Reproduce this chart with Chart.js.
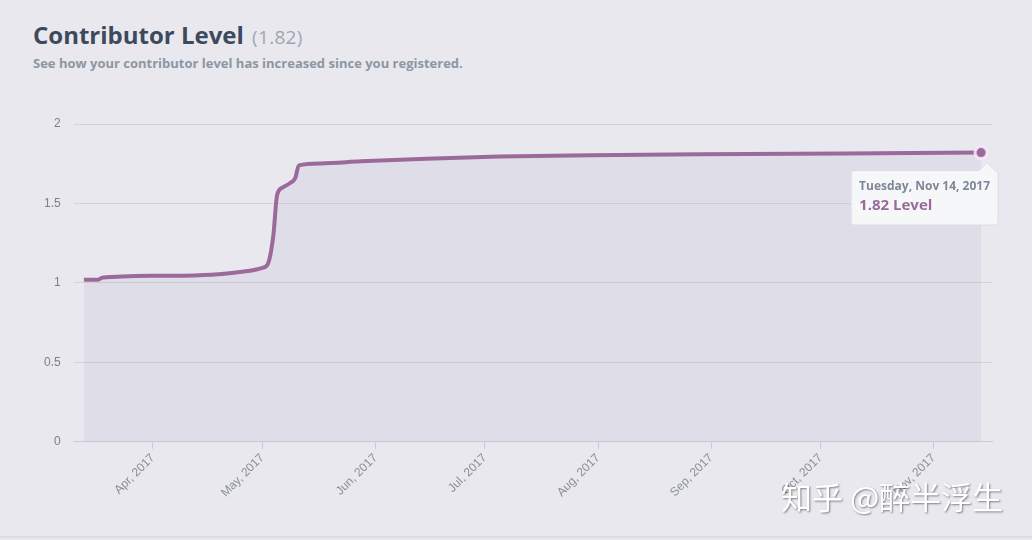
<!DOCTYPE html>
<html lang="en">
<head>
    <meta charset="UTF-8">
    <title>Contributor Level</title>
    <script src="https://cdn.jsdelivr.net/npm/chart.js"></script>
    <style>
        html, body { margin: 0; padding: 0; }
        body {
            width: 1032px; height: 540px; overflow: hidden; position: relative;
            background: #e8e8ee; font-family: "Open Sans", sans-serif;
        }
        h1 {
            position: absolute; left: 33px; top: 18px; margin: 0;
            font-size: 24px; font-weight: 700; color: #3d4a5c;
        }
        h1 span { font-size: 19px; font-weight: 400; color: #a0a6b0; letter-spacing: 0.3px; margin-left: 2px; }
        p.sub {
            position: absolute; left: 33px; top: 54px; margin: 0;
            font-size: 13px; font-weight: 700; color: #8d96a3;
        }
        #wrap { position: absolute; left: 0; top: 90px; width: 1032px; height: 440px; }
        .mark {
            position: absolute; left: 781px; top: 473px;
            font-family: "Noto Sans CJK SC", sans-serif; font-size: 31px; color: #fff;
            text-shadow: 1px 1px 2px rgba(0,0,0,0.45);
        }
        .edge { position: absolute; left: 0; top: 536px; width: 1032px; height: 2px; background: #dcdbe5; }
    </style>
</head>
<body>
    <h1>Contributor Level <span>(1.82)</span></h1>
    <p class="sub">See how your contributor level has increased since you registered.</p>
    <div id="wrap"><canvas id="myChart"></canvas></div>
    <div class="mark">知乎 @醉半浮生</div>
    <div class="edge"></div>

    <script>
        // day of year 2017 (Jan 1 = 0) and contributor level
        const days   = [71, 75, 76, 92, 106, 116, 120, 121.5, 123, 124, 125.5, 127.7, 129, 130, 136, 147, 165, 185, 210, 240, 280, 317];
        const levels = [1.02, 1.02, 1.032, 1.045, 1.052, 1.075, 1.095, 1.12, 1.3, 1.55, 1.6, 1.63, 1.66, 1.74, 1.752, 1.765, 1.782, 1.795, 1.803, 1.81, 1.815, 1.82];

        const monthDays   = [90, 120, 151, 181, 212, 243, 273, 304];
        const monthLabels = ['Apr, 2017', 'May, 2017', 'Jun, 2017', 'Jul, 2017', 'Aug, 2017', 'Sep, 2017', 'Oct, 2017', 'Nov, 2017'];
        const yTicks = [0, 0.5, 1, 1.5, 2];

        const purple = '#9b6a9b';

        function dayTitle(d) {
            const dt = new Date(2017, 0, 1 + d);
            return dt.toLocaleDateString('en-US', { weekday: 'long', month: 'short', day: 'numeric', year: 'numeric' });
        }

        // tooltip sits a little right of the point, like the original widget
        Chart.Tooltip.positioners.pinned = function (items) {
            if (!items.length) return false;
            return { x: items[0].element.x + 6, y: items[0].element.y };
        };

        const ctx = document.getElementById('myChart').getContext('2d');
        const myChart = new Chart(ctx, {
            type: 'line',
            data: {
                datasets: [{
                    label: 'Level',
                    data: days.map((d, i) => ({ x: d, y: levels[i] })),
                    borderColor: purple,
                    borderWidth: 4,
                    backgroundColor: 'rgba(130,110,160,0.08)',
                    fill: 'origin',
                    cubicInterpolationMode: 'monotone',
                    pointRadius: 0,
                    pointHoverRadius: 6,
                    pointHoverBackgroundColor: purple,
                    pointHoverBorderColor: 'rgba(250,235,250,0.85)',
                    pointHoverBorderWidth: 3
                }]
            },
            options: {
                responsive: true,
                maintainAspectRatio: false,
                animation: false,
                events: [],
                layout: { padding: { left: 31, right: 40, top: 34, bottom: 28 } },
                scales: {
                    x: {
                        type: 'linear',
                        min: 71,
                        max: 320,
                        afterBuildTicks: axis => { axis.ticks = monthDays.map(v => ({ value: v })); },
                        ticks: {
                            autoSkip: false,
                            maxRotation: 45,
                            minRotation: 45,
                            color: '#8a8f99',
                            font: { family: 'Liberation Sans', size: 12 },
                            padding: 2,
                            callback: v => monthLabels[monthDays.indexOf(v)]
                        },
                        grid: { drawOnChartArea: false, tickLength: 7, color: '#c8ccd6' },
                        border: { color: '#c5ccd8' }
                    },
                    y: {
                        min: 0,
                        max: 2,
                        afterBuildTicks: axis => { axis.ticks = yTicks.map(v => ({ value: v })); },
                        ticks: {
                            color: '#7d8088',
                            font: { family: 'Liberation Sans', size: 12 },
                            padding: 13,
                            callback: v => String(v)
                        },
                        grid: {
                            tickLength: 10,
                            color: ctx => ctx.tick && ctx.tick.value === 0 ? '#c5ccd8' : '#d3d3dc'
                        },
                        border: { display: false }
                    }
                },
                plugins: {
                    legend: { display: false },
                    tooltip: {
                        position: 'pinned',
                        xAlign: 'right',
                        yAlign: 'top',
                        backgroundColor: '#f6f7f9',
                        borderColor: '#dcdde4',
                        borderWidth: 1,
                        cornerRadius: 3,
                        caretSize: 8,
                        caretPadding: 10,
                        padding: { left: 8, right: 8, top: 9, bottom: 10 },
                        displayColors: false,
                        titleColor: '#7d8896',
                        titleFont: { family: 'Open Sans', size: 12, weight: 'bold' },
                        titleMarginBottom: 3,
                        bodyColor: purple,
                        bodyFont: { family: 'Open Sans', size: 15, weight: 'bold' },
                        callbacks: {
                            title: items => dayTitle(items[0].parsed.x),
                            label: item => item.parsed.y.toFixed(2) + ' Level'
                        }
                    }
                }
            }
        });

        const last = days.length - 1;
        myChart.setActiveElements([{ datasetIndex: 0, index: last }]);
        const el = myChart.getDatasetMeta(0).data[last];
        myChart.tooltip.setActiveElements([{ datasetIndex: 0, index: last }], { x: el.x, y: el.y });
        myChart.update();
    </script>
</body>
</html>
